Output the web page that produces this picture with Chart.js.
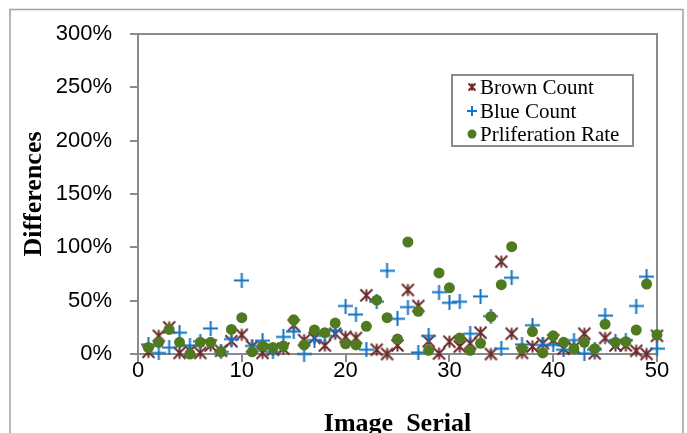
<!DOCTYPE html>
<html>
<head>
<meta charset="utf-8">
<script src="https://cdn.jsdelivr.net/npm/chart.js@4.4.0/dist/chart.umd.min.js"></script>
<style>
  html, body { margin: 0; padding: 0; background: #fff; }
  #wrap { width: 687px; height: 433px; position: relative; }
</style>
</head>
<body>
<div id="wrap"><canvas id="chart"></canvas></div>
<script>
// image serial numbers 1..50
const serial = [1,2,3,4,5,6,7,8,9,10,11,12,13,14,15,16,17,18,19,20,21,22,23,24,25,
  26,27,28,29,30,31,32,33,34,35,36,37,38,39,40,41,42,43,44,45,46,47,48,49,50];

// differences in percent
const brownCount = [2,17,25,1,3,1,8,3,12,18,7,1,4,5,27,13,15,8,19,16,
  15,55,4,0,8,60,45,12,0.5,11.5,7,10,20,0,86.6,19,1,7,10,13,
  5,6,19,0.6,15,8,8,3,0,17];
const blueCount = [9,1,6,20,8,12,24,2,14,69,7.5,12.5,2,16,21,0,13,17,22,45,
  37,4,49,78,33,44,1.5,17,58,48,49,19,54,35.5,5,71.5,9,27,8.5,8.5,
  4,13,0.6,4,36,12,13,45,72.5,5];
const prolifRate = [6,11,23,11,0,11,11,2,23,34,2,7.5,6,7.5,32,8.5,22.5,20,29,9.5,
  8.5,26,50.5,34,14,105,40,3.5,76,62,15,3.5,10,35,65,100.6,5,21,1,17,
  11,5,11,5,28,11,11.5,22.5,65.6,18];

const seriesNames = ['Brown Count', 'Blue Count', 'Prliferation Rate'];
const xTicks = [0, 10, 20, 30, 40, 50];
const yTicks = [0, 50, 100, 150, 200, 250, 300];

const BROWN = '#6d2b2b';
const BLUE = '#1274c4';
const GREEN = '#4f7a1f';
const GREY = '#8a8a8a';

// marker images
function asteriskImg(size, color, lw) {
  const c = document.createElement('canvas');
  c.width = size; c.height = size;
  const g = c.getContext('2d');
  g.strokeStyle = color; g.lineWidth = lw;
  const p = lw / 2 + 0.5, s = size - p;
  g.beginPath();
  g.moveTo(p, p); g.lineTo(s, s);
  g.moveTo(s, p); g.lineTo(p, s);
  g.moveTo(size / 2, p); g.lineTo(size / 2, s);
  g.stroke();
  return c;
}
function plusImg(size, color, lw) {
  const c = document.createElement('canvas');
  c.width = size; c.height = size;
  const g = c.getContext('2d');
  g.strokeStyle = color; g.lineWidth = lw;
  g.beginPath();
  g.moveTo(0, size / 2); g.lineTo(size, size / 2);
  g.moveTo(size / 2, 0); g.lineTo(size / 2, size);
  g.stroke();
  return c;
}

const toPoints = vals => vals.map((v, i) => ({ x: serial[i], y: v }));

// frame, legend and axis titles
const decorations = {
  id: 'decorations',
  beforeDatasetsDraw(chart) {
    const ctx = chart.ctx;
    const a = chart.chartArea;
    ctx.save();
    // outer border
    ctx.strokeStyle = '#a0a0a0';
    ctx.lineWidth = 1.5;
    ctx.beginPath();
    ctx.moveTo(10, 445); ctx.lineTo(10, 9.5); ctx.lineTo(683, 9.5); ctx.lineTo(683, 445);
    ctx.stroke();
    // top and right edge of plot area
    ctx.strokeStyle = GREY;
    ctx.lineWidth = 2;
    ctx.beginPath();
    ctx.moveTo(a.left, a.top); ctx.lineTo(a.right, a.top); ctx.lineTo(a.right, a.bottom);
    ctx.stroke();
    ctx.restore();
  },
  afterDatasetsDraw(chart) {
    const ctx = chart.ctx;
    const a = chart.chartArea;
    ctx.save();
    // legend box
    ctx.fillStyle = '#fff';
    ctx.fillRect(452, 75, 181, 71);
    ctx.strokeStyle = GREY;
    ctx.lineWidth = 2;
    ctx.strokeRect(452, 75, 181, 71);
    const rows = [87, 111, 134];
    const mx = 472;
    ctx.drawImage(asteriskImg(10, BROWN, 2), mx - 5, rows[0] - 5);
    ctx.drawImage(plusImg(10, BLUE, 2), mx - 5, rows[1] - 5);
    ctx.fillStyle = GREEN;
    ctx.beginPath(); ctx.arc(mx, rows[2], 4.5, 0, Math.PI * 2); ctx.fill();
    ctx.fillStyle = '#000';
    ctx.font = '21px "Liberation Serif", "Times New Roman", serif';
    ctx.textBaseline = 'middle';
    ctx.textAlign = 'left';
    seriesNames.forEach((n, i) => ctx.fillText(n, 480, rows[i] + 1));

    // axis titles
    ctx.font = 'bold 26px "Liberation Serif", "Times New Roman", serif';
    ctx.textAlign = 'center';
    ctx.fillText('Image  Serial', (a.left + a.right) / 2, 424);
    ctx.translate(34, (a.top + a.bottom) / 2);
    ctx.rotate(-Math.PI / 2);
    ctx.fillText('Differences', 0, 0);
    ctx.restore();
  }
};

const tickFont = { family: '"Liberation Sans", Arial, sans-serif', size: 22 };

new Chart(document.getElementById('chart'), {
  type: 'scatter',
  data: {
    datasets: [
      {
        label: seriesNames[0],
        data: toPoints(brownCount),
        pointStyle: asteriskImg(15, BROWN, 2),
        order: 3,
        clip: false,
      },
      {
        label: seriesNames[1],
        data: toPoints(blueCount),
        pointStyle: plusImg(15, BLUE, 2),
        order: 2,
        clip: false,
      },
      {
        label: seriesNames[2],
        data: toPoints(prolifRate),
        pointStyle: 'circle',
        pointRadius: 5.5,
        backgroundColor: GREEN,
        borderWidth: 0,
        order: 1,
        clip: false,
      },
    ],
  },
  options: {
    responsive: true,
    maintainAspectRatio: false,
    animation: false,
    layout: { padding: { left: 10, top: 34, right: 30, bottom: 0 } },
    plugins: {
      legend: { display: false },
      tooltip: { enabled: false },
    },
    scales: {
      x: {
        type: 'linear',
        min: xTicks[0],
        max: xTicks[xTicks.length - 1],
        afterBuildTicks: s => { s.ticks = xTicks.map(v => ({ value: v })); },
        afterFit: s => { s.height = 79; },
        ticks: { font: tickFont, color: '#000', padding: -4, maxRotation: 0 },
        grid: { drawOnChartArea: false, drawTicks: true, tickLength: 8, color: GREY, lineWidth: 2 },
        border: { color: GREY, width: 2 },
      },
      y: {
        type: 'linear',
        min: yTicks[0],
        max: yTicks[yTicks.length - 1],
        afterBuildTicks: s => { s.ticks = yTicks.map(v => ({ value: v })); },
        afterFit: s => { s.width = 128; },
        ticks: { font: tickFont, color: '#000', padding: 18, callback: v => v + '%' },
        grid: { drawOnChartArea: false, drawTicks: true, tickLength: 8, color: GREY, lineWidth: 2 },
        border: { color: GREY, width: 2 },
      },
    },
  },
  plugins: [decorations],
});
</script>
</body>
</html>
